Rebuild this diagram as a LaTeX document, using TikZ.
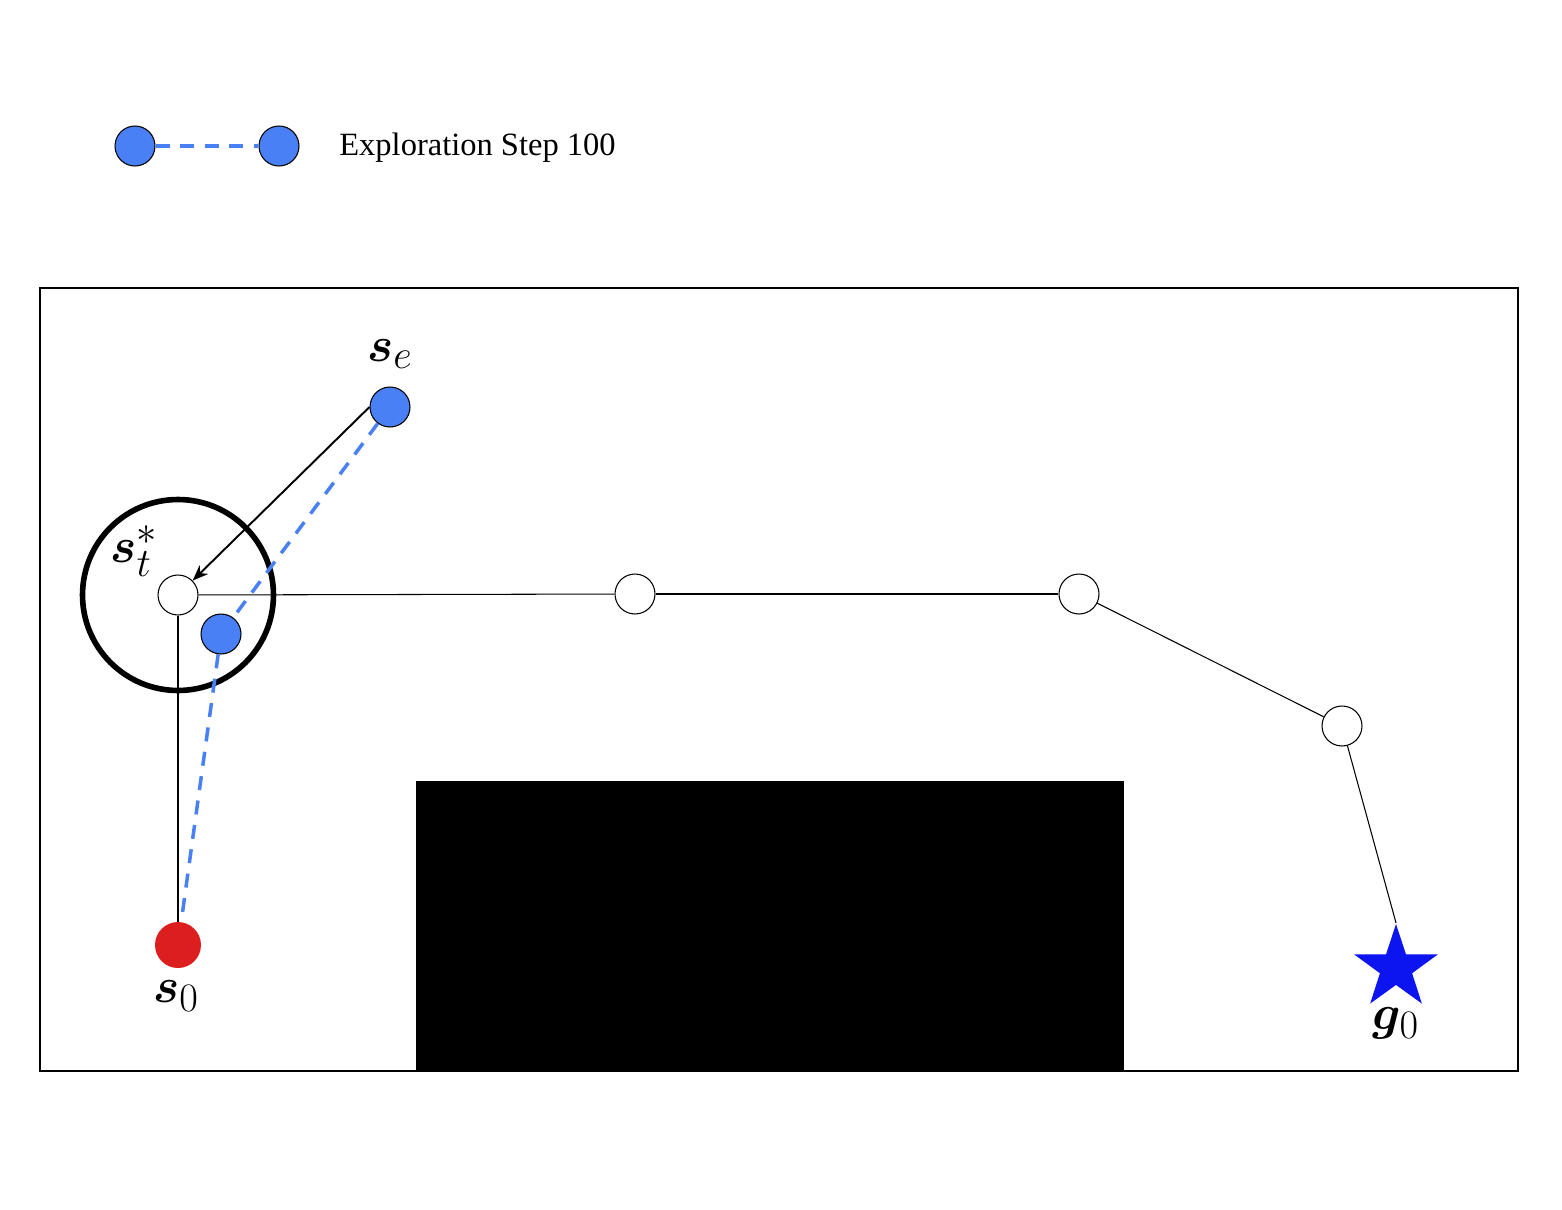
\RequirePackage{fix-cm}
\documentclass[tikz,border=0pt]{standalone}
\usepackage{fontspec}
\setmainfont{Liberation Serif}
\usepackage{amsmath,bm}
\usetikzlibrary{shapes.geometric,arrows.meta}
\DeclareMathSizes{28}{28}{23}{18}
\definecolor{expblue}{RGB}{74,128,245}
\definecolor{startred}{RGB}{220,30,30}
\definecolor{goalblue}{RGB}{12,20,240}

\begin{document}
\begin{tikzpicture}[x=0.02cm,y=-0.02cm,
  way node/.style={circle,draw,fill=white,line width=0.6pt,minimum size=0.8cm,inner sep=0pt},
  exp node/.style={circle,draw,fill=expblue,line width=0.6pt,minimum size=0.8cm,inner sep=0pt},
  explink/.style={expblue,line width=2pt,dash pattern=on 8pt off 6pt},
  state label/.style={font=\fontsize{28}{34}\selectfont}]

  \useasboundingbox (0,0) rectangle (1562,1210);

  % legend
  \node[exp node] (l1) at (135,146){};
  \node[exp node] (l2) at (279,146){};
  \node[anchor=west,inner sep=0pt,font=\fontsize{18.5}{22}\selectfont] (lt) at (339,148){Exploration Step 100};
  \draw[explink] (l1) -- (l2);

  % world and obstacle
  \draw[line width=0.8pt] (40,288) rectangle (1518,1071);
  \fill (416,781) rectangle (1124,1071);

  % states
  \node[way node] (st) at (178,595){};
  \node[circle,draw,line width=3.2pt,minimum size=3.82cm] (ring) at (st){};
  \node[way node] (1) at (635,594){};
  \node[way node] (2) at (1079,594){};
  \node[way node] (3) at (1342,726){};
  \node[star,star points=5,star point ratio=2.6,fill=goalblue,minimum size=1.76cm,inner sep=0pt] (g0) at (1396,968){};
  \node[circle,fill=startred,minimum size=0.92cm,inner sep=0pt] (s0) at (178,945){};
  \node[exp node] (se) at (390,407){};
  \node[exp node] (sn) at (221,634){};

  \node[state label] (se label) at (390,354){$\bm{s}_e$};
  \node[state label] (st label) at (134,551){$\bm{s}_t^*$};
  \node[state label] (s0 label) at (176,996){$\bm{s}_0$};
  \node[state label] (g0 label) at (1396,1023){$\bm{g}_0$};

  \path[line width=0.6pt]
    (st) edge (1)
    (1) edge (2)
    (2) edge (3)
    (3) edge (g0.north)
    (st) edge (s0);

  \draw[explink] (se) -- (sn) -- (s0);
  \draw[line width=1.1pt,-{Stealth[length=9pt,width=7pt]}] (se.west) -- (st);
\end{tikzpicture}
\end{document}
